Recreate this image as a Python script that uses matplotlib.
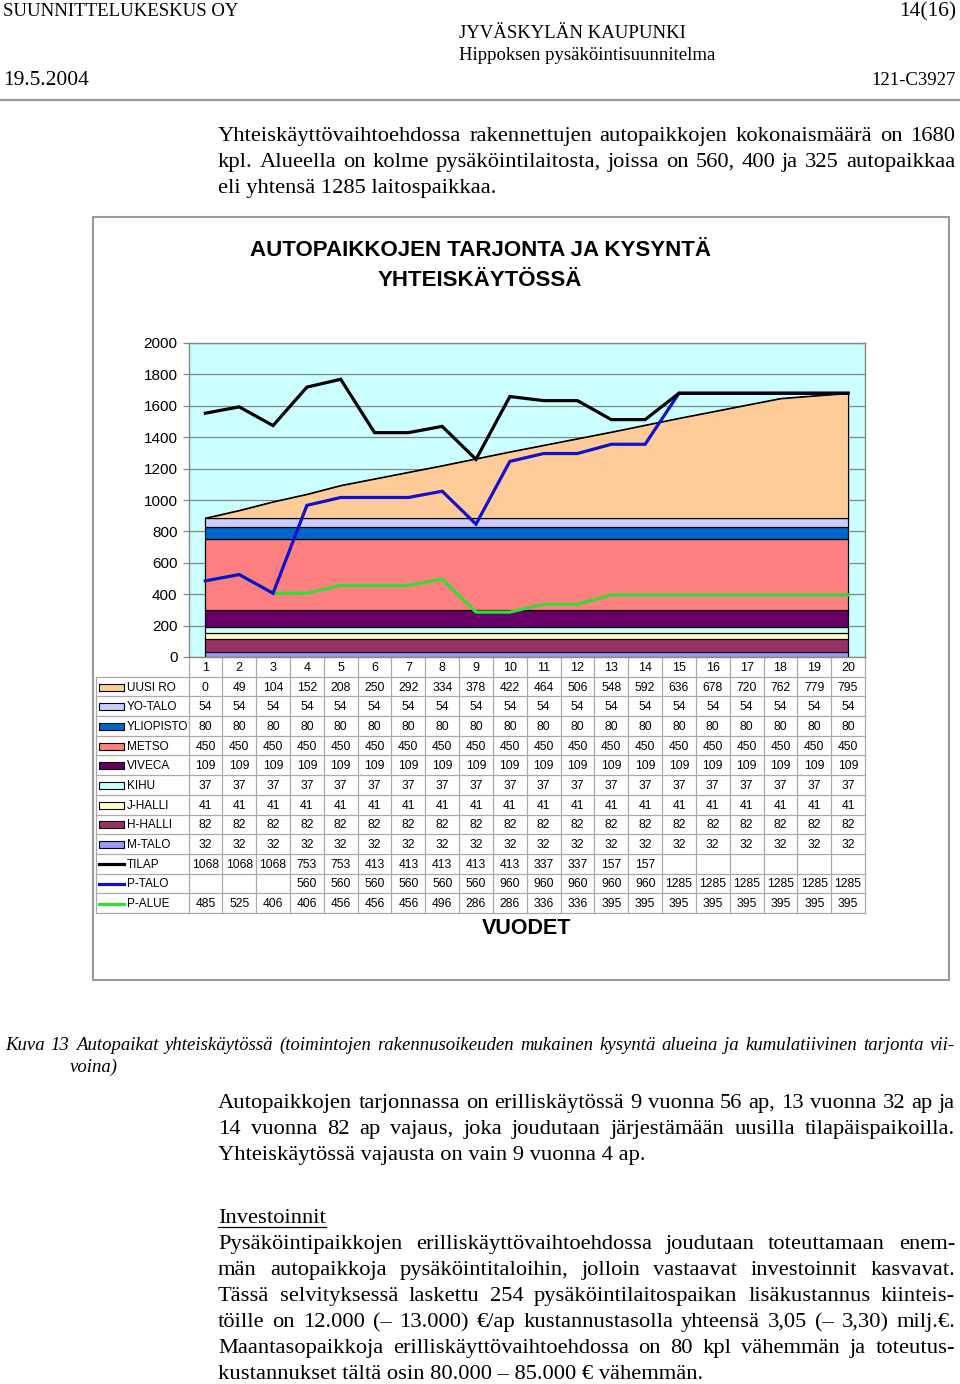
import numpy as np
import matplotlib
matplotlib.use("Agg")
import matplotlib.pyplot as plt
from matplotlib.patches import Rectangle

# ---------------- data ----------------
years = [1, 2, 3, 4, 5, 6, 7, 8, 9, 10, 11, 12, 13, 14, 15, 16, 17, 18, 19, 20]
uusi_ro = [0, 49, 104, 152, 208, 250, 292, 334, 378, 422, 464, 506, 548, 592, 636, 678, 720, 762, 779, 795]
yo_talo = [54, 54, 54, 54, 54, 54, 54, 54, 54, 54, 54, 54, 54, 54, 54, 54, 54, 54, 54, 54]
yliopisto = [80, 80, 80, 80, 80, 80, 80, 80, 80, 80, 80, 80, 80, 80, 80, 80, 80, 80, 80, 80]
metso = [450, 450, 450, 450, 450, 450, 450, 450, 450, 450, 450, 450, 450, 450, 450, 450, 450, 450, 450, 450]
viveca = [109, 109, 109, 109, 109, 109, 109, 109, 109, 109, 109, 109, 109, 109, 109, 109, 109, 109, 109, 109]
kihu = [37, 37, 37, 37, 37, 37, 37, 37, 37, 37, 37, 37, 37, 37, 37, 37, 37, 37, 37, 37]
j_halli = [41, 41, 41, 41, 41, 41, 41, 41, 41, 41, 41, 41, 41, 41, 41, 41, 41, 41, 41, 41]
h_halli = [82, 82, 82, 82, 82, 82, 82, 82, 82, 82, 82, 82, 82, 82, 82, 82, 82, 82, 82, 82]
m_talo = [32, 32, 32, 32, 32, 32, 32, 32, 32, 32, 32, 32, 32, 32, 32, 32, 32, 32, 32, 32]
nan = np.nan
tilap = [1068, 1068, 1068, 753, 753, 413, 413, 413, 413, 413, 337, 337, 157, 157, nan, nan, nan, nan, nan, nan]
p_talo = [nan, nan, nan, 560, 560, 560, 560, 560, 560, 960, 960, 960, 960, 960, 1285, 1285, 1285, 1285, 1285, 1285]
p_alue = [485, 525, 406, 406, 456, 456, 456, 496, 286, 286, 336, 336, 395, 395, 395, 395, 395, 395, 395, 395]

area_names = ["UUSI RO", "YO-TALO", "YLIOPISTO", "METSO", "VIVECA", "KIHU", "J-HALLI", "H-HALLI", "M-TALO"]
area_values = [uusi_ro, yo_talo, yliopisto, metso, viveca, kihu, j_halli, h_halli, m_talo]
area_colors = ["#FFCC99", "#CCCCFF", "#0066CC", "#FF8080", "#660066", "#CCFFFF", "#FFFFCC", "#993366", "#9999FF"]
line_names = ["TILAP", "P-TALO", "P-ALUE"]
line_values = [tilap, p_talo, p_alue]
line_colors = ["#000000", "#1111CC", "#33DD33"]

W, H = 960, 1384
fig = plt.figure(figsize=(W / 100, H / 100), dpi=100)
fig.patch.set_facecolor("white")

# overlay axes in page pixel coordinates
pax = fig.add_axes([0, 0, 1, 1])
pax.set_xlim(0, W)
pax.set_ylim(H, 0)
pax.axis("off")

SERIF = "Liberation Serif"
SANS = "Liberation Sans"

# ---------------- chart axes ----------------
L, R, T, B = 188.5, 865, 343, 657
ax = fig.add_axes([L / W, 1 - B / H, (R - L) / W, (B - T) / H])
ax.set_facecolor("#CCFFFF")
ax.set_xlim(0.5, 20.5)
ax.set_ylim(0, 2000)
ax.set_yticks(range(0, 2001, 200))
ax.yaxis.grid(True, color="#808888", lw=0.9)
ax.set_axisbelow(True)
ax.set_xticks([])
for s in ax.spines.values():
    s.set_color("#888888")
    s.set_linewidth(1.0)
ax.tick_params(axis="y", length=4, width=0.9, color="#888888", pad=4,
               labelsize=11, labelcolor="black")
for lab in ax.get_yticklabels():
    lab.set_fontfamily(SANS)

x = np.array(years)
base = np.zeros(len(x))
for vals, col in zip(area_values[::-1], area_colors[::-1]):
    top = base + np.array(vals, dtype=float)
    ax.fill_between(x, base, top, facecolor=col, edgecolor="black", lw=0.8, zorder=2)
    ax.plot(x, top, color="black", lw=0.8, zorder=2.5)
    base = top
ax.vlines([x[0], x[-1]], 0, base[[0, -1]], color="black", lw=0.8, zorder=2.5)

cum = np.zeros(len(x))
stacked = []
for vals in line_values[::-1]:
    cum = cum + np.nan_to_num(np.array(vals, dtype=float))
    stacked.append(cum.copy())
for yv, col in zip(stacked, line_colors[::-1]):
    ax.plot(x, yv, color=col, lw=2.3, zorder=4, solid_joinstyle="miter")

# ---------------- data table ----------------
def colx(i):
    return ax.transData.transform((i, 0))[0]

grid_c = "#AAAAAA"
TL, TT, TB = 96, 657, 913
rh = (TB - TT) / 13.0
edges = [colx(i + 0.5) for i in range(0, 21)]
for ex in edges:
    pax.plot([ex, ex], [TT, TB], color=grid_c, lw=0.9)
pax.plot([TL, TL], [TT + rh, TB], color=grid_c, lw=0.9)
for r in range(1, 14):
    yy = TT + r * rh
    pax.plot([TL, edges[-1]], [yy, yy], color=grid_c, lw=0.9)

for i, yr in enumerate(years):
    pax.text(colx(yr), TT + 0.5 * rh + 1, str(yr), ha="center", va="center",
             fontsize=9, family=SANS)

rows = list(zip(area_names, area_values, area_colors, ["area"] * 9)) + \
       list(zip(line_names, line_values, line_colors, ["line"] * 3))
for r, (name, vals, col, kind) in enumerate(rows):
    yc = TT + (r + 1.5) * rh + 0.5
    if kind == "area":
        pax.add_patch(Rectangle((99, yc - 3.5), 25, 7, facecolor=col, edgecolor="black", lw=0.8))
    else:
        pax.plot([99, 124], [yc, yc], color=col, lw=2.3)
    pax.text(127, yc + 0.5, name, ha="left", va="center", fontsize=8.5, family=SANS)
    for i, v in enumerate(vals):
        if not np.isnan(v):
            pax.text(colx(years[i]), yc + 0.5, "%d" % v, ha="center", va="center",
                     fontsize=8.7, family=SANS)

pax.text(527, 929, "VUODET", ha="center", va="center", fontsize=15.5,
         fontweight="bold", family=SANS)
pax.text(480, 251, "AUTOPAIKKOJEN TARJONTA JA KYSYNTÄ", ha="center", va="center",
         fontsize=16, fontweight="bold", family=SANS)
pax.text(480, 280, "YHTEISKÄYTÖSSÄ", ha="center", va="center",
         fontsize=16, fontweight="bold", family=SANS)

pax.add_patch(Rectangle((93, 217), 949 - 93, 980 - 217, facecolor="none",
                        edgecolor="#999999", lw=1.5))

# ---------------- page text ----------------
renderer = fig.canvas.get_renderer()


def width_of(s, size, style="normal"):
    t = pax.text(0, 0, s, fontsize=size, family=SERIF, style=style)
    w = t.get_window_extent(renderer).width
    t.remove()
    return w


def put_line(s, x0, x1, base, size, style="normal", justify=True):
    words = s.split(" ")
    if not justify or len(words) == 1:
        pax.text(x0, base, s, fontsize=size, family=SERIF, style=style,
                 ha="left", va="baseline")
        return
    ws = [width_of(wd, size, style) for wd in words]
    gap = (x1 - x0 - sum(ws)) / (len(words) - 1)
    xx = x0
    for wd, wdw in zip(words, ws):
        pax.text(xx, base, wd, fontsize=size, family=SERIF, style=style,
                 ha="left", va="baseline")
        xx += wdw + gap


HS = 13.5
pax.text(3, 16, "SUUNNITTELUKESKUS OY", fontsize=HS, family=SERIF, va="baseline")
pax.text(956, 16, "14(16)", fontsize=15.5, family=SERIF, va="baseline", ha="right")
pax.text(459, 38, "JYVÄSKYLÄN KAUPUNKI", fontsize=HS, family=SERIF, va="baseline")
pax.text(459, 60, "Hippoksen pysäköintisuunnitelma", fontsize=13.5, family=SERIF, va="baseline")
pax.text(3, 85, "19.5.2004", fontsize=15.5, family=SERIF, va="baseline")
pax.text(956, 85, "121-C3927", fontsize=13.5, family=SERIF, va="baseline", ha="right")
pax.plot([0, 960], [100, 100], color="#999999", lw=1.6)

BS = 16.2
X0, X1 = 218, 955
put_line("Yhteiskäyttövaihtoehdossa rakennettujen autopaikkojen kokonaismäärä on 1680", X0, X1, 141, BS)
put_line("kpl. Alueella on kolme pysäköintilaitosta, joissa on 560, 400 ja 325 autopaikkaa", X0, X1, 167, BS)
put_line("eli yhtensä 1285 laitospaikkaa.", X0, X1, 193, BS, justify=False)

CS = 13.5
put_line("Kuva 13 Autopaikat yhteiskäytössä (toimintojen rakennusoikeuden mukainen kysyntä alueina ja kumulatiivinen tarjonta vii-",
         5, 955, 1050, CS, style="italic")
put_line("voina)", 70, 955, 1072, CS, style="italic", justify=False)

put_line("Autopaikkojen tarjonnassa on erilliskäytössä 9 vuonna 56 ap, 13 vuonna 32 ap ja", X0, X1, 1108, BS)
put_line("14 vuonna 82 ap vajaus, joka joudutaan järjestämään uusilla tilapäispaikoilla.", X0, X1, 1134, BS)
put_line("Yhteiskäytössä vajausta on vain 9 vuonna 4 ap.", X0, X1, 1160, BS, justify=False)

put_line("Investoinnit", X0, X1, 1223, BS, justify=False)
uw = width_of("Investoinnit", BS)
pax.plot([X0, X0 + uw], [1227, 1227], color="black", lw=0.9)
para = [
    ("Pysäköintipaikkojen erilliskäyttövaihtoehdossa joudutaan toteuttamaan enem-", True),
    ("män autopaikkoja pysäköintitaloihin, jolloin vastaavat investoinnit kasvavat.", True),
    ("Tässä selvityksessä laskettu 254 pysäköintilaitospaikan lisäkustannus kiinteis-", True),
    ("töille on 12.000 (– 13.000) €/ap kustannustasolla yhteensä 3,05 (– 3,30) milj.€.", True),
    ("Maantasopaikkoja erilliskäyttövaihtoehdossa on 80 kpl vähemmän ja toteutus-", True),
    ("kustannukset tältä osin 80.000 – 85.000 € vähemmän.", False),
]
for k, (s, j) in enumerate(para):
    put_line(s, X0, X1, 1249 + 26 * k, BS, justify=j)

fig.savefig("out.png", dpi=100, facecolor="white")
